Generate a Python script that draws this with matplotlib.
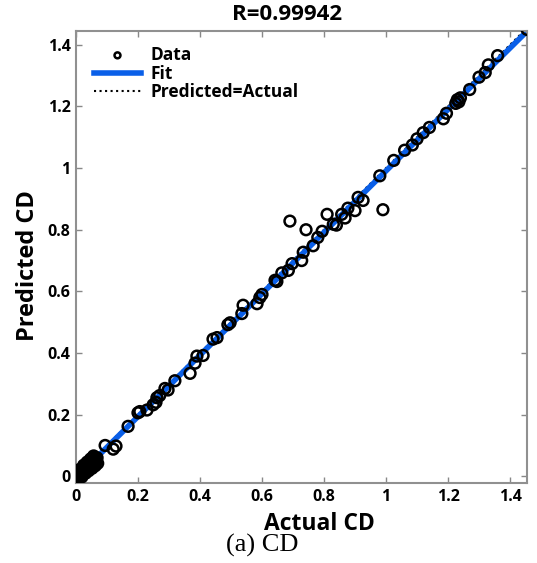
import matplotlib
matplotlib.use('Agg')
import matplotlib.pyplot as plt
import numpy as np

plt.rcParams['font.family'] = ['Open Sans', 'DejaVu Sans']

# ---- data ----
actual = [
    # dense cluster near the origin
    0.000, 0.002, 0.004, 0.005, 0.006, 0.008, 0.010, 0.011, 0.012, 0.014,
    0.015, 0.017, 0.018, 0.020, 0.021, 0.023, 0.024, 0.026, 0.027, 0.029,
    0.030, 0.032, 0.034, 0.035, 0.037, 0.039, 0.040, 0.042, 0.044, 0.046,
    0.048, 0.050, 0.052, 0.055, 0.058, 0.061, 0.064, 0.055,
    0.003, 0.009, 0.016, 0.022, 0.028, 0.033, 0.038, 0.043, 0.049, 0.054,
    0.060, 0.066, 0.012, 0.025, 0.036, 0.047, 0.057, 0.068,
    0.006, 0.019, 0.031, 0.041, 0.052, 0.062, 0.070,
    # low range
    0.094, 0.120, 0.129, 0.168, 0.200, 0.206, 0.229, 0.249, 0.258, 0.261,
    0.270, 0.287, 0.297, 0.319, 0.368, 0.384, 0.390, 0.410, 0.442, 0.455,
    0.490, 0.497, 0.535, 0.539, 0.584, 0.593, 0.600, 0.642, 0.648,
    # mid range
    0.664, 0.685, 0.697, 0.728, 0.733, 0.765, 0.780, 0.794, 0.830, 0.840,
    0.857, 0.868, 0.877, 0.900, 0.910,
    # outliers
    0.690, 0.742, 0.810, 0.926, 0.990,
    # upper range
    0.980, 1.025, 1.060, 1.085, 1.100, 1.120, 1.140, 1.185, 1.195, 1.225,
    1.230, 1.235, 1.240, 1.270, 1.300, 1.320, 1.330, 1.360, 1.455,
]
predicted = [
    0.000, 0.003, 0.002, 0.006, 0.004, 0.009, 0.008, 0.012, 0.010, 0.015,
    0.013, 0.018, 0.016, 0.021, 0.019, 0.024, 0.022, 0.027, 0.025, 0.030,
    0.028, 0.033, 0.031, 0.036, 0.034, 0.040, 0.037, 0.043, 0.040, 0.047,
    0.044, 0.049, 0.047, 0.052, 0.050, 0.048, 0.055, 0.062,
    -0.010, -0.004, 0.002, 0.008, 0.014, 0.019, 0.024, 0.030, 0.035, 0.040,
    0.044, 0.050, 0.022, 0.036, 0.046, 0.056, 0.066, 0.060,
    -0.012, -0.002, 0.010, 0.018, 0.026, 0.034, 0.042,
    0.100, 0.088, 0.098, 0.162, 0.206, 0.210, 0.215, 0.232, 0.240, 0.255,
    0.262, 0.285, 0.280, 0.310, 0.334, 0.367, 0.390, 0.392, 0.445, 0.450,
    0.492, 0.498, 0.528, 0.555, 0.560, 0.580, 0.590, 0.636, 0.632,
    0.660, 0.668, 0.690, 0.700, 0.727, 0.748, 0.775, 0.795, 0.818, 0.815,
    0.850, 0.838, 0.870, 0.862, 0.905,
    0.828, 0.800, 0.850, 0.895, 0.865,
    0.975, 1.025, 1.058, 1.075, 1.095, 1.115, 1.132, 1.160, 1.178, 1.210,
    1.222, 1.215, 1.228, 1.255, 1.295, 1.310, 1.335, 1.365, 1.450,
]

title = 'R=0.99942'
xlabel = 'Actual CD'
ylabel = 'Predicted CD'
caption = '(a) CD'

actual = np.array(actual)
predicted = np.array(predicted)
coef = np.polyfit(actual, predicted, 1)
xfit = np.array([0.0, actual.max()])

fig = plt.figure(figsize=(5.37, 5.63), dpi=100)
ax = fig.add_axes([0.1415, 0.142, 0.84, 0.803])

ax.plot(xfit, np.polyval(coef, xfit), color='#0a5fe8', lw=4, zorder=2, label='Fit')
ax.plot(xfit, xfit, ':', color='black', lw=1.5, zorder=1.5, label='Predicted=Actual')
ax.scatter(actual, predicted, s=60, facecolors='none', edgecolors='black',
           linewidths=1.8, zorder=3, label='Data')

ax.set_xlim(0, 1.455)
ax.set_ylim(-0.022, 1.445)
ticks = [0, 0.2, 0.4, 0.6, 0.8, 1, 1.2, 1.4]
ticklabels = ['0', '0.2', '0.4', '0.6', '0.8', '1', '1.2', '1.4']
ax.set_xticks(ticks)
ax.set_xticklabels(ticklabels, fontsize=11.5, fontweight='bold')
ax.set_yticks(ticks)
ax.set_yticklabels(ticklabels, fontsize=11.5, fontweight='bold')
ax.tick_params(direction='in', top=True, right=True, length=4, width=1,
               color='#888888', pad=4)
for sp in ax.spines.values():
    sp.set_color('#909090')
    sp.set_linewidth(1.5)

fig.text(287 / 537, 1 - 14 / 563, title, fontsize=16, fontweight='bold',
         ha='center', va='center')
ax.set_xlabel(xlabel, fontsize=16.5, fontweight='bold', labelpad=2)
ax.xaxis.set_label_coords((319 - 76) / 451, -0.065)
ax.set_ylabel(ylabel, fontsize=17, fontweight='bold', labelpad=4)
ax.yaxis.set_label_coords(-0.079, 0.48)

h, l = ax.get_legend_handles_labels()
order = [2, 0, 1]
leg = ax.legend([h[i] for i in order], [l[i] for i in order], loc='upper left',
                bbox_to_anchor=(0.016, 0.99),
                frameon=False, handlelength=2.75, labelspacing=0.04,
                handletextpad=0.55, borderaxespad=0.2, markerscale=0.55,
                prop={'weight': 'bold', 'size': 12.5})

fig.text(262 / 537, 1 - 545 / 563, caption, family='Liberation Serif', fontsize=19,
         ha='center', va='center')

fig.savefig('out.png', dpi=100, facecolor='white')
